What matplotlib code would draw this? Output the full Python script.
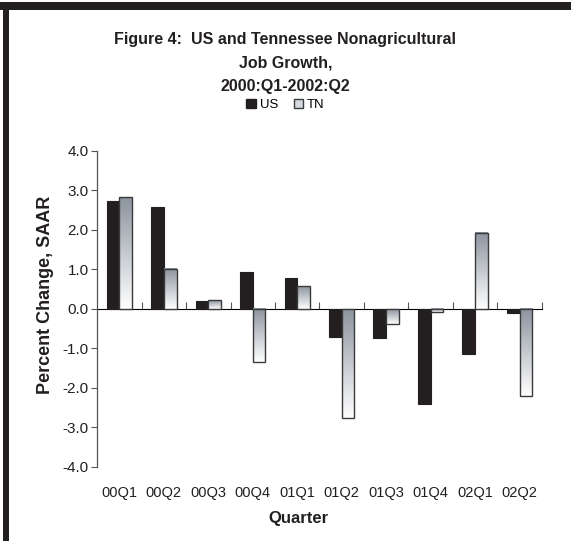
"""US vs Tennessee nonagricultural job growth, 2000:Q1-2002:Q2 (clustered bars)."""
import matplotlib
matplotlib.use("Agg")
import matplotlib.pyplot as plt
import numpy as np
from matplotlib.colors import LinearSegmentedColormap
from matplotlib.patches import Rectangle

quarters = ["00Q1", "00Q2", "00Q3", "00Q4", "01Q1",
            "01Q2", "01Q3", "01Q4", "02Q1", "02Q2"]
us = [2.74, 2.57, 0.19, 0.94, 0.78, -0.71, -0.73, -2.42, -1.13, -0.10]
tn = [2.83, 1.02, 0.22, -1.35, 0.57, -2.75, -0.37, -0.08, 1.93, -2.21]
yticks = [-4.0, -3.0, -2.0, -1.0, 0.0, 1.0, 2.0, 3.0, 4.0]

US_BLACK = "#231f20"
EDGE = "#3a3a3a"
TN_TOP = "#8c949f"
FONT = "Liberation Sans"

plt.rcParams["font.family"] = [FONT, "DejaVu Sans"]

fig = plt.figure(figsize=(5.71, 5.41), dpi=100)
ax = fig.add_axes([0.170, 0.137, 0.779, 0.584])

x = np.arange(len(quarters))
w = 0.286
ax.bar(x - w / 2, us, w, color=US_BLACK, edgecolor=US_BLACK, linewidth=0.8, zorder=3)
tn_bars = ax.bar(x + w / 2, tn, w, facecolor="none", edgecolor=EDGE, linewidth=1.0, zorder=4)

# vertical gray->white gradient inside each TN bar
cmap = LinearSegmentedColormap.from_list("tn", ["#ffffff", TN_TOP])
grad = np.linspace(0, 1, 256).reshape(-1, 1)
for p in tn_bars:
    x0, y0 = p.get_x(), p.get_y()
    x1, y1 = x0 + p.get_width(), y0 + p.get_height()
    ax.imshow(grad, extent=[x0, x1, min(y0, y1), max(y0, y1)], origin="lower",
              aspect="auto", cmap=cmap, zorder=3.5, interpolation="bilinear")

ax.set_xlim(-0.5, len(quarters) - 0.5)
ax.set_ylim(-4, 4)
ax.set_yticks(yticks)
ax.set_yticklabels([f"{v:.1f}" for v in yticks], fontsize=11, color="#231f20")
ax.tick_params(axis="y", length=4, width=0.8, color="#555555", pad=2)

ax.set_xticks(x)
ax.set_xticklabels(quarters, fontsize=10.5, color="#231f20")
ax.tick_params(axis="x", length=0, pad=14)

for s in ["top", "right", "bottom"]:
    ax.spines[s].set_visible(False)
ax.spines["left"].set_color("#555555")
ax.spines["left"].set_linewidth(0.9)

# zero line with category-boundary ticks
zero = ax.secondary_xaxis(0.5)
zero.set_xticks(np.arange(len(quarters)) + 0.5)
zero.set_xticklabels([])
zero.tick_params(axis="x", length=5, width=0.8, color="#555555", direction="out")
zero.spines["bottom"].set_color("#555555")
zero.spines["bottom"].set_linewidth(0.9)

ax.set_xlabel("Quarter", fontsize=12, fontweight="bold", color="#231f20")
ax.xaxis.set_label_coords(0.452, -0.14)
ax.set_ylabel("Percent Change, SAAR", fontsize=13, fontweight="bold", color="#231f20")
ax.yaxis.set_label_coords(-0.097, 0.544)

fig.text(0.5, 1 - 63 / 541, "Figure 4:  US and Tennessee Nonagricultural\nJob Growth,\n2000:Q1-2002:Q2",
         ha="center", va="center", fontsize=11.5, fontweight="bold", linespacing=1.68,
         color="#231f20")

handles = [Rectangle((0, 0), 1, 1, facecolor=US_BLACK, edgecolor=US_BLACK),
           Rectangle((0, 0), 1, 1, facecolor="#d4d8dd", edgecolor=EDGE)]
fig.legend(handles, ["US", "TN"], loc="center", bbox_to_anchor=(0.5, 1 - 105 / 541),
           ncol=2, frameon=False, fontsize=9.5, handlelength=0.7, handleheight=0.7,
           handletextpad=0.3, columnspacing=1.2)

# heavy frame on top and left edges
fig.patches.append(Rectangle((0, 1 - 10 / 541), 1, 8 / 541, transform=fig.transFigure,
                             facecolor=US_BLACK, edgecolor="none"))
fig.patches.append(Rectangle((3 / 571, 0), 6 / 571, 1 - 2 / 541, transform=fig.transFigure,
                             facecolor=US_BLACK, edgecolor="none"))

fig.savefig("out.png", dpi=100)
